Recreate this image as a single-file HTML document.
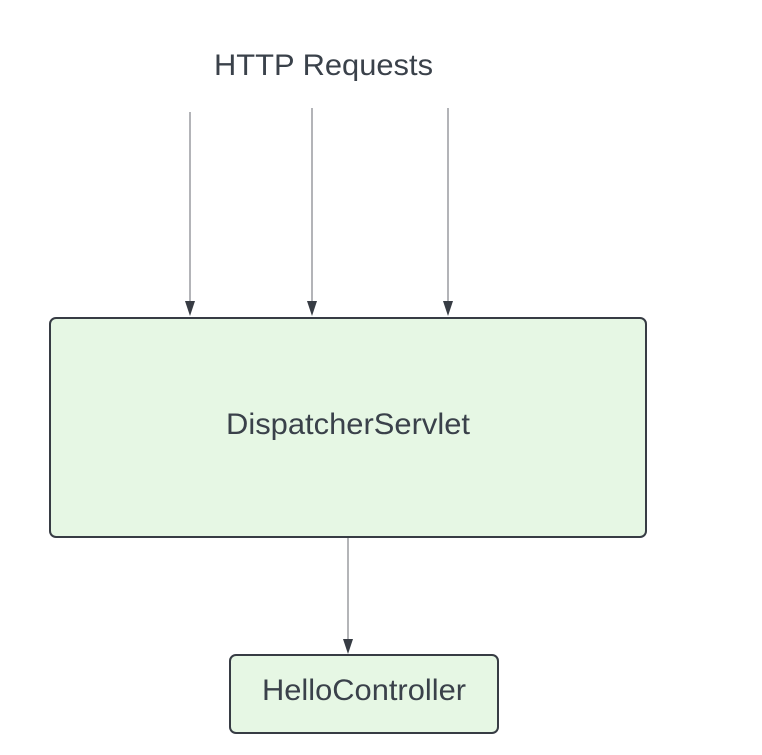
<!DOCTYPE html>
<html><head><style>body{margin:0;background:#fff}</style></head><body>
<svg width="762" height="750" xmlns="http://www.w3.org/2000/svg" font-family="Liberation Sans, sans-serif">
<rect width="762" height="750" fill="#fff"/>
<text x="214" y="75" font-size="30" fill="#3a414a" textLength="219" lengthAdjust="spacingAndGlyphs">HTTP Requests</text>
<g stroke="#9a9ca1" stroke-width="1.5">
<line x1="190" y1="112" x2="190" y2="302"/>
<line x1="312" y1="108" x2="312" y2="302"/>
<line x1="448" y1="108" x2="448" y2="302"/>
<line x1="348" y1="538" x2="348" y2="640"/>
</g>
<g fill="#373c44">
<polygon points="185,301 195,301 190,316"/>
<polygon points="307,301 317,301 312,316"/>
<polygon points="443,301 453,301 448,316"/>
<polygon points="343,639 353,639 348,654"/>
</g>
<rect x="50" y="318" width="596" height="219" rx="6" fill="#e6f7e4" stroke="#373c44" stroke-width="2"/>
<text x="226" y="434" font-size="30" fill="#3a414a" textLength="244" lengthAdjust="spacingAndGlyphs">DispatcherServlet</text>
<rect x="230" y="655" width="268" height="78" rx="6" fill="#e6f7e4" stroke="#373c44" stroke-width="2"/>
<text x="262" y="700" font-size="30" fill="#3a414a" textLength="204" lengthAdjust="spacingAndGlyphs">HelloController</text>
</svg>
</body></html>
